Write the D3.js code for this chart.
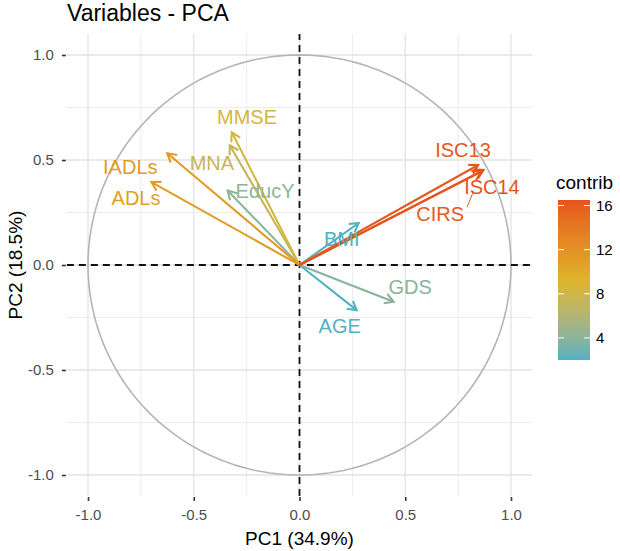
<!DOCTYPE html>
<html>
<head>
<meta charset="utf-8">
<script src="https://cdn.jsdelivr.net/npm/d3@7"></script>
<style>
  body { margin: 0; background: #fff; }
  text { font-family: "Liberation Sans", Arial, Helvetica, sans-serif; }
</style>
</head>
<body>
<svg id="pca" width="620" height="551"></svg>
<script>
// variables, coordinates on PC1/PC2 and contribution
var variables = ["ISC13", "ISC14", "CIRS", "BMI", "AGE", "GDS", "EducY", "MNA", "MMSE", "IADLs", "ADLs"];
var pc1 = [0.845, 0.870, 0.860, 0.280, 0.270, 0.445, -0.340, -0.330, -0.320, -0.625, -0.700];
var pc2 = [0.476, 0.452, 0.445, 0.200, -0.215, -0.175, 0.355, 0.570, 0.632, 0.532, 0.395];
var contrib = [16.2, 16.5, 16.0, 2.0, 2.0, 3.9, 4.1, 7.4, 8.5, 11.4, 11.0];
// repelled label positions (ggrepel output, data units)
var labelX = [0.773, 0.910, 0.665, 0.200, 0.190, 0.523, -0.163, -0.414, -0.248, -0.800, -0.773];
var labelY = [0.548, 0.371, 0.243, 0.124, -0.290, -0.105, 0.352, 0.486, 0.705, 0.470, 0.320];
var labelSegment = ["CIRS"];

var ticks = [-1.0, -0.5, 0.0, 0.5, 1.0];
var minorTicks = [-0.75, -0.25, 0.25, 0.75];
var legendTicks = [4, 8, 12, 16];

var svg = d3.select("#pca");

var x = d3.scaleLinear().domain([-1, 1]).range([88, 511]);
var y = d3.scaleLinear().domain([-1, 1]).range([475, 55]);
var xLim = [-1.1, 1.1], yLim = [-1.1, 1.1];

// gradient2 like factoextra: low / mid (mean) / high
var cMin = d3.min(contrib), cMax = d3.max(contrib), cMid = d3.mean(contrib);
var color = d3.scaleLinear()
    .domain([cMin, cMid, cMax])
    .range(["#4fb2c1", "#dcb62c", "#e6531d"])
    .interpolate(d3.interpolateLab);

// grid
var grid = svg.append("g");
grid.selectAll(".minx").data(minorTicks).enter().append("line")
    .attr("x1", d => x(d)).attr("x2", d => x(d))
    .attr("y1", y(yLim[0])).attr("y2", y(yLim[1]))
    .style("stroke", "#ececec").style("stroke-width", 1);
grid.selectAll(".miny").data(minorTicks).enter().append("line")
    .attr("y1", d => y(d)).attr("y2", d => y(d))
    .attr("x1", x(xLim[0])).attr("x2", x(xLim[1]))
    .style("stroke", "#ececec").style("stroke-width", 1);
grid.selectAll(".majx").data(ticks).enter().append("line")
    .attr("x1", d => x(d)).attr("x2", d => x(d))
    .attr("y1", y(yLim[0])).attr("y2", y(yLim[1]))
    .style("stroke", "#e3e3e3").style("stroke-width", 1.3);
grid.selectAll(".majy").data(ticks).enter().append("line")
    .attr("y1", d => y(d)).attr("y2", d => y(d))
    .attr("x1", x(xLim[0])).attr("x2", x(xLim[1]))
    .style("stroke", "#e3e3e3").style("stroke-width", 1.3);

// correlation circle
var circ = d3.range(0, 361, 2).map(a => [Math.cos(a * Math.PI / 180), Math.sin(a * Math.PI / 180)]);
svg.append("path")
    .datum(circ)
    .attr("d", d3.line().x(d => x(d[0])).y(d => y(d[1])))
    .attr("fill", "none")
    .style("stroke", "#b5b5b5")
    .style("stroke-width", 1.6);

// dashed axes
svg.append("line")
    .attr("x1", x(xLim[0])).attr("x2", x(xLim[1]))
    .attr("y1", y(0)).attr("y2", y(0))
    .style("stroke", "#111").style("stroke-width", 1.8).style("stroke-dasharray", "7,5");
svg.append("line")
    .attr("y1", y(yLim[0])).attr("y2", y(yLim[1]))
    .attr("x1", x(0)).attr("x2", x(0))
    .style("stroke", "#111").style("stroke-width", 1.8).style("stroke-dasharray", "7,5");

// axes (ticks + labels)
var xAxis = svg.append("g")
    .attr("transform", "translate(0," + (y(yLim[0]) + 1) + ")")
    .call(d3.axisBottom(x).tickValues(ticks).tickFormat(d3.format(".1f")).tickSize(4).tickPadding(8));
var yAxis = svg.append("g")
    .attr("transform", "translate(" + (x(xLim[0]) - 1) + ",0)")
    .call(d3.axisLeft(y).tickValues(ticks).tickFormat(d3.format(".1f")).tickSize(4).tickPadding(8));
[xAxis, yAxis].forEach(function(a){
    a.select(".domain").remove();
    a.selectAll(".tick line").style("stroke", "#333").style("stroke-width", 1.6);
    a.selectAll(".tick text")
        .style("font-size", "15px")
        .style("fill", "#4d4d4d")
        .text(d => d3.format(".1f")(d).replace("−", "-"));
});

// arrows
var data = variables.map((v, i) => ({name: v, x: pc1[i], y: pc2[i], c: contrib[i], lx: labelX[i], ly: labelY[i]}));
// draw low contrib first so the strong ones sit on top
data.sort((a, b) => a.c - b.c);

var headLen = 10, headAng = Math.PI / 6;
var arrows = svg.append("g");
data.forEach(function(d){
    var x0 = x(0), y0 = y(0), x1 = x(d.x), y1 = y(d.y);
    var ang = Math.atan2(y1 - y0, x1 - x0);
    var col = color(d.c);
    arrows.append("line")
        .attr("x1", x0).attr("y1", y0).attr("x2", x1).attr("y2", y1)
        .style("stroke", col).style("stroke-width", 2.1);
    arrows.append("path")
        .attr("d", "M" + (x1 - headLen * Math.cos(ang - headAng)) + "," + (y1 - headLen * Math.sin(ang - headAng))
            + "L" + x1 + "," + y1
            + "L" + (x1 - headLen * Math.cos(ang + headAng)) + "," + (y1 - headLen * Math.sin(ang + headAng)))
        .attr("fill", "none")
        .style("stroke", col).style("stroke-width", 2.1)
        .style("stroke-linejoin", "miter");
});

// labels
var labels = svg.append("g");
data.forEach(function(d){
    var t = labels.append("text")
        .attr("x", x(d.lx))
        .attr("y", y(d.ly))
        .attr("text-anchor", "middle")
        .attr("dy", "0.36em")
        .style("font-size", "20px")
        .style("fill", color(d.c))
        .text(d.name);
    if (labelSegment.indexOf(d.name) >= 0) {
        var bb = t.node().getBBox();
        var sx = bb.x + bb.width + 3, sy = bb.y + 4;
        var tx = x(d.x), ty = y(d.y);
        labels.append("line")
            .attr("x1", sx).attr("y1", sy)
            .attr("x2", sx + (tx - sx) * 0.45).attr("y2", sy + (ty - sy) * 0.45)
            .style("stroke", color(d.c)).style("stroke-width", 1);
    }
});

// titles
svg.append("text")
    .attr("x", 67).attr("y", 21)
    .style("font-size", "23px").style("fill", "#000")
    .text("Variables - PCA");
svg.append("text")
    .attr("x", x(0)).attr("y", 545)
    .attr("text-anchor", "middle")
    .style("font-size", "19px").style("fill", "#000")
    .text("PC1 (34.9%)");
svg.append("text")
    .attr("transform", "translate(22," + y(0) + ") rotate(-90)")
    .attr("text-anchor", "middle")
    .style("font-size", "19px").style("fill", "#000")
    .text("PC2 (18.5%)");

// colour legend
var barX = 558, barW = 32, barTop = 200, barBottom = 360;
var lscale = d3.scaleLinear().domain([cMin, cMax]).range([barBottom, barTop]);
var defs = svg.append("defs");
var grad = defs.append("linearGradient").attr("id", "contribGrad")
    .attr("x1", "0").attr("y1", "1").attr("x2", "0").attr("y2", "0");
d3.range(0, 1.0001, 0.05).forEach(function(t){
    var v = cMin + t * (cMax - cMin);
    grad.append("stop").attr("offset", t).attr("stop-color", color(v));
});
svg.append("text")
    .attr("x", 556).attr("y", 189)
    .style("font-size", "19px").style("fill", "#000")
    .text("contrib");
svg.append("rect")
    .attr("x", barX).attr("y", barTop)
    .attr("width", barW).attr("height", barBottom - barTop)
    .style("fill", "url(#contribGrad)");
var lg = svg.append("g");
legendTicks.forEach(function(v){
    lg.append("line").attr("x1", barX).attr("x2", barX + 6)
        .attr("y1", lscale(v)).attr("y2", lscale(v))
        .style("stroke", "#fff").style("stroke-width", 1);
    lg.append("line").attr("x1", barX + barW - 6).attr("x2", barX + barW)
        .attr("y1", lscale(v)).attr("y2", lscale(v))
        .style("stroke", "#fff").style("stroke-width", 1);
    lg.append("text")
        .attr("x", barX + barW + 6).attr("y", lscale(v))
        .attr("dy", "0.36em")
        .style("font-size", "15px").style("fill", "#000")
        .text(v);
});
</script>
</body>
</html>
